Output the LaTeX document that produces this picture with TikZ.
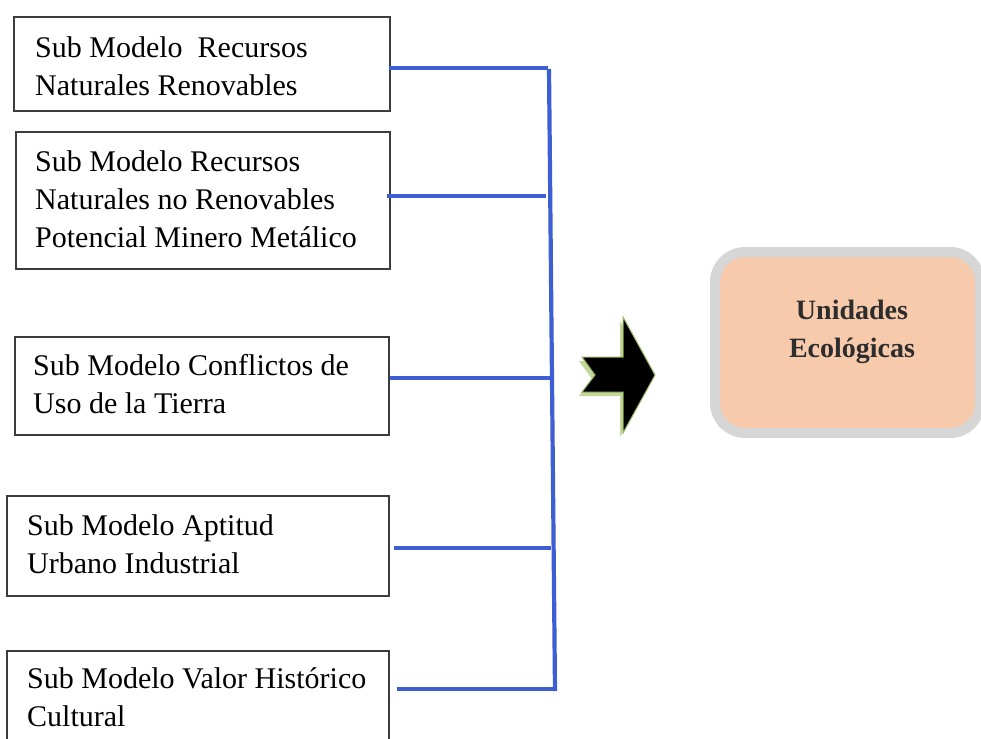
\documentclass[tikz,border=0pt]{standalone}
\usepackage{fontspec}
\setmainfont{Liberation Serif}
\definecolor{bluel}{RGB}{62,94,212}
\definecolor{peach}{RGB}{247,202,172}
\definecolor{grayb}{RGB}{214,214,214}
\definecolor{boxline}{RGB}{60,60,60}
\definecolor{greenlt}{RGB}{196,215,155}
\definecolor{greendk}{RGB}{150,180,100}
\definecolor{txtdark}{RGB}{45,45,45}
\tikzset{
  smbox/.style={draw=boxline, line width=1.3pt, minimum width=#1, inner sep=0pt},
  smh/.style={minimum height=#1},
  lbl/.style={anchor=west, align=left, inner sep=0pt, font=\fontsize{30}{38}\selectfont, text=black},
  conn/.style={draw=bluel, line width=3.2pt},
  barline/.style={draw=bluel, line width=4.2pt},
  ecobox/.style={draw=grayb, line width=10pt, fill=peach, rounded corners=30pt, inner sep=0pt},
  ecolbl/.style={align=center, inner sep=0pt, font=\fontsize{28}{38}\selectfont\bfseries, text=txtdark}
}
\begin{document}
\begin{tikzpicture}[x=1pt,y=-1pt]
\useasboundingbox (0,0) rectangle (981,738);
\fill[white] (0,0) rectangle (981,738);

% boxes
\node[smbox=376pt, smh=94pt] (b1) at (202,64) {};
\node[smbox=374pt, smh=137pt] (b2) at (203,200.5) {};
\node[smbox=374pt, smh=98pt] (b3) at (202,386) {};
\node[smbox=382pt, smh=100pt] (b4) at (198,546) {};
\node[smbox=382pt, smh=93pt] (b5) at (198,697.5) {};

% labels
\node[lbl] (t1) at (35,66) {Sub Modelo\ \ Recursos\\Naturales Renovables};
\node[lbl] (t2) at (35,199) {Sub Modelo Recursos\\Naturales no Renovables\\Potencial Minero Metálico};
\node[lbl] (t3) at (33,384.5) {Sub Modelo Conflictos de\\Uso de la Tierra};
\node[lbl] (t4) at (27,544) {Sub Modelo Aptitud\\Urbano Industrial};
\node[lbl] (t5) at (27,697.5) {Sub Modelo Valor Histórico\\Cultural};

% bar junctions
\coordinate (j1) at (548,68);
\coordinate (j2) at (546,196);
\coordinate (j3) at (550,378);
\coordinate (j4) at (551,548);
\coordinate (j5) at (553,689);
\coordinate (bt) at (549,69);
\coordinate (bb) at (555,691);

\draw[barline] (bt) -- (bb);
\draw[conn] ([xshift=-2pt]b1.east |- j1) -- (j1);
\draw[conn] ([xshift=-4pt]b2.east |- j2) -- (j2);
\draw[conn] ([xshift=0pt]b3.east |- j3) -- (j3);
\draw[conn] ([xshift=4pt]b4.east |- j4) -- (j4);
\draw[conn] ([xshift=7pt]b5.east |- j5) -- (j5);

% arrow
\fill[greenlt] (579,361) -- (620,361) -- (620,321) -- (653,379) -- (620,437) -- (620,396) -- (579,396) -- (592,379) -- cycle;
\draw[greendk, line width=1pt, fill=black] (582,357) -- (623,357) -- (623,317) -- (655,375) -- (623,433) -- (623,392) -- (582,392) -- (595,375) -- cycle;

% result box
\node[ecobox, minimum width=265pt, minimum height=181pt] (ue) at (847.5,342.5) {};
\node[ecolbl] (ut) at (852,332) {Unidades\\Ecológicas};
\end{tikzpicture}
\end{document}
